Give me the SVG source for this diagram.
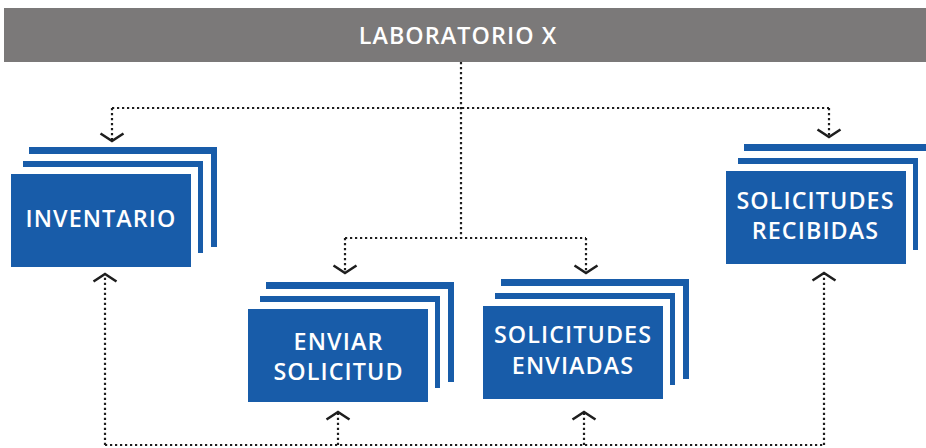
<svg xmlns="http://www.w3.org/2000/svg" xmlns:xlink="http://www.w3.org/1999/xlink" width="926" height="448" viewBox="0 0 926 448">
<style>
.blue{fill:#185ca9}
.white{fill:#ffffff}
.lbl{font-family:"Open Sans","Noto Sans","Liberation Sans",sans-serif;font-weight:600;font-size:23.3px;fill:#ffffff;text-anchor:middle;letter-spacing:1.1px}
.hdr{font-family:"Open Sans","Noto Sans","Liberation Sans",sans-serif;font-weight:600;font-size:23.3px;fill:#ffffff;text-anchor:middle;letter-spacing:1.1px}
.dot{fill:none;stroke:#1e1e1e;stroke-width:2.2;stroke-dasharray:2.2 2.8}
.arr{marker-end:url(#chev)}
</style>
<defs>
<marker id="chev" markerUnits="userSpaceOnUse" markerWidth="30" markerHeight="30" viewBox="-15 -15 30 30" refX="0" refY="0" orient="auto" overflow="visible">
<path d="M-7.5,-11.5 L0,0 L-7.5,11.5" fill="none" stroke="#1e1e1e" stroke-width="2.6" stroke-dasharray="none"/>
</marker>
<g id="stack">
<rect class="blue" x="18" y="-27" width="188" height="100"/>
<rect class="white" x="8" y="-20" width="192" height="113"/>
<rect class="blue" x="12" y="-13" width="180" height="92"/>
<rect class="white" x="4" y="-7" width="183" height="100"/>
<rect class="blue" x="0" y="0" width="180" height="93"/>
</g>
</defs>

<g id="header">
<rect x="4" y="8" width="922" height="54" fill="#7b7979"/>
<text class="hdr" x="458" y="44">LABORATORIO X</text>
</g>

<g id="connectors">
<path class="dot" d="M461,62 V238"/>
<path class="dot" d="M112,108 H829"/>
<path class="dot arr" d="M112,108 V141"/>
<path class="dot arr" d="M829,108 V137"/>
<path class="dot" d="M345,238 H586"/>
<path class="dot arr" d="M345,238 V273"/>
<path class="dot arr" d="M586,238 V273"/>
<path class="dot" d="M105,445 H824"/>
<path class="dot arr" d="M105,445 V274"/>
<path class="dot arr" d="M338,445 V412"/>
<path class="dot arr" d="M584,445 V412"/>
<path class="dot arr" d="M824,445 V273"/>
</g>

<g id="inventario">
<use xlink:href="#stack" x="11" y="174"/>
<text class="lbl" x="101" y="227">INVENTARIO</text>
</g>

<g id="enviar-solicitud">
<use xlink:href="#stack" x="248" y="309"/>
<text class="lbl" x="338.5" y="350">ENVIAR</text>
<text class="lbl" x="338.5" y="380">SOLICITUD</text>
</g>

<g id="solicitudes-enviadas">
<use xlink:href="#stack" x="483" y="306"/>
<text class="lbl" x="573" y="343">SOLICITUDES</text>
<text class="lbl" x="573" y="374">ENVIADAS</text>
</g>

<g id="solicitudes-recibidas">
<use xlink:href="#stack" x="726" y="171"/>
<text class="lbl" x="815.5" y="209">SOLICITUDES</text>
<text class="lbl" x="815.5" y="239">RECIBIDAS</text>
</g>
</svg>
